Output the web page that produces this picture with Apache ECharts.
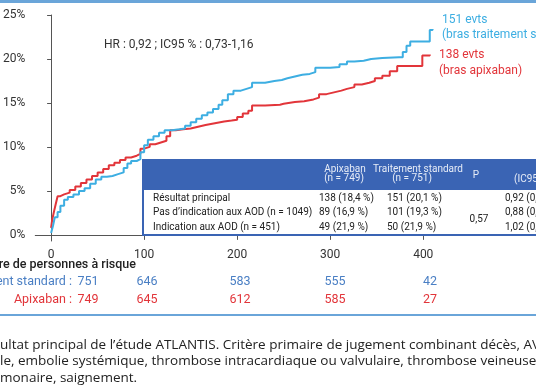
<!DOCTYPE html>
<html>
<head>
<meta charset="utf-8">
<script src="https://cdn.jsdelivr.net/npm/echarts@6/dist/echarts.min.js"></script>
<style>
html,body{margin:0;padding:0;background:#fff;}
#c{width:536px;height:386px;}
</style>
</head>
<body>
<div id="c"></div>
<script>
// ---- Data ----
const stdT = [0,2,4,7,10,14,18,24,30,36,42,48,54,60,66,72,78,82,86,92,96,100,104,110,116,122,130,138,144,150,156,162,168,174,180,184,190,196,204,210,216,222,230,240,248,254,262,270,278,284,292,300,310,318,326,336,344,356,374,378,382,386,404,407,410];
const stdP = [0.2,1.0,2.0,2.6,3.3,4.0,4.3,4.6,5.0,5.3,5.8,6.3,6.6,6.7,6.9,7.1,7.6,8.1,8.4,8.6,9.4,10.2,10.8,11.2,11.6,11.9,12.0,12.1,12.4,12.8,13.2,13.6,13.9,14.3,14.8,15.3,16.0,16.4,16.6,16.8,17.3,17.3,17.5,17.6,17.8,18.0,18.2,18.3,18.5,19.0,19.0,19.1,19.4,19.7,19.8,20.0,20.1,20.2,20.2,20.8,21.5,22.0,22.0,23.3,23.4];
const apixT = [0,1,3,5,7,10,14,20,26,32,38,44,50,56,62,68,74,80,86,92,96,100,106,112,118,124,128,134,142,150,158,166,176,186,194,200,206,212,216,230,246,250,262,272,282,288,296,304,312,318,326,334,342,348,356,364,372,396,399,407];
const apixP = [0.8,1.6,2.6,3.5,4.4,4.6,4.8,5.1,5.5,5.9,6.3,6.7,7.1,7.5,7.9,8.2,8.5,8.8,9.0,9.2,9.8,10.0,10.3,10.5,10.7,11.2,11.9,12.0,12.1,12.3,12.5,12.7,12.9,13.0,13.1,13.4,13.8,14.1,14.7,14.8,14.9,15.1,15.2,15.4,15.6,16.0,16.2,16.4,16.6,16.8,17.1,17.3,17.5,17.8,18.1,18.6,19.2,19.2,20.4,20.5];

const yTicks = [0,5,10,15,20,25];
const xTicks = [0,100,200,300,400];

const riskStd = [751,646,583,555,42];
const riskApix = [749,645,612,585,27];

const tableRows = ['Résultat principal','Pas d’indication aux AOD (n = 1049)','Indication aux AOD (n = 451)'];
const apixCol = ['138 (18,4 %)','89 (16,9 %)','49 (21,9 %)'];
const stdCol = ['151 (20,1 %)','101 (19,3 %)','50 (21,9 %)'];
const hrCol = ['0,92 (0,73-1,16)','0,88 (0,','1,02 (0,'];
const pValue = '0,57';

const captionLines = [
  'ultat principal de l’étude ATLANTIS. Critère primaire de jugement combinant décès, AVC,',
  'le, embolie systémique, thrombose intracardiaque ou valvulaire, thrombose veineuse',
  'monaire, saignement.'
];

// ---- Styles / layout ----
const FONT = 'Roboto, "Noto Sans", sans-serif';
const CAP_FONT = '"Open Sans", Roboto, sans-serif';
const BLUE = '#3daee2';
const RED = '#e2353a';
const RISK_BLUE = '#4a7fc4';
const TABLE_BLUE = '#3a64b4';
const riskX = [88,147,240,335,430];
const rowY = [198,212,227];

const chart = echarts.init(document.getElementById('c'), null, {renderer:'canvas'});

function pairs(t,p){ return t.map((v,i)=>[v,p[i]]); }

const g = [];
g.push({type:'rect', shape:{x:0,y:0,width:536,height:3}, style:{fill:'#6aa5d9'}, z:10});
g.push({type:'rect', shape:{x:0,y:314,width:536,height:2}, style:{fill:'#6aa5d9'}, z:10});

function txt(text,x,y,opt){
  opt = opt||{};
  return {type:'text', x:x, y:y, z:opt.z||20, style:{
    text:text, fill:opt.fill||'#2b2b2b', font:(opt.weight||'normal')+' '+(opt.size||12)+'px '+(opt.family||FONT),
    align:opt.align||'left', verticalAlign:'middle'}};
}

g.push(txt('HR : 0,92 ; IC95 % : 0,73-1,16',104,45,{size:12,fill:'#333'}));
g.push(txt('151 evts',442,20,{fill:BLUE}));
g.push(txt('(bras traitement standard)',442,35,{fill:BLUE}));
g.push(txt('138 evts',439,55,{fill:RED}));
g.push(txt('(bras apixaban)',439,71,{fill:RED}));

// table
g.push({type:'rect', z:15, shape:{x:143,y:160,width:420,height:75}, style:{fill:'#fff', stroke:TABLE_BLUE, lineWidth:2}});
g.push({type:'rect', z:16, shape:{x:143,y:160,width:420,height:30}, style:{fill:TABLE_BLUE}});
const HDR = '#e6ecf7';
g.push(txt('Apixaban',345,169,{size:10,fill:HDR,align:'center'}));
g.push(txt('(n = 749)',344,178,{size:10,fill:HDR,align:'center'}));
g.push(txt('Traitement standard',418,169,{size:10,fill:HDR,align:'center'}));
g.push(txt('(n = 751)',412,178,{size:10,fill:HDR,align:'center'}));
g.push(txt('P',476,175,{size:10,fill:HDR,align:'center'}));
g.push(txt('(IC95 %)',514,179,{size:10,fill:HDR}));
tableRows.forEach((r,i)=>{
  g.push(txt(r,153,rowY[i],{size:10,fill:'#222'}));
  g.push(txt(apixCol[i],319,rowY[i],{size:10,fill:'#222'}));
  g.push(txt(stdCol[i],387,rowY[i],{size:10,fill:'#222'}));
  g.push(txt(hrCol[i],505,rowY[i],{size:10,fill:'#222'}));
});
g.push(txt(pValue,479,219,{size:10,fill:'#222',align:'center'}));

// risk table
g.push(txt('Nombre de personnes à risque',136,265,{size:12.5,weight:'500',fill:'#222',align:'right'}));
g.push(txt('Traitement standard :',72,282,{size:12.5,fill:RISK_BLUE,align:'right'}));
g.push(txt('Apixaban :',72,300,{size:12.5,fill:RED,align:'right'}));
riskStd.forEach((v,i)=>g.push(txt(String(v),riskX[i],282,{size:12.5,fill:RISK_BLUE,align:'center'})));
riskApix.forEach((v,i)=>g.push(txt(String(v),riskX[i],300,{size:12.5,fill:RED,align:'center'})));

// caption
captionLines.forEach((l,i)=>g.push(txt(l,0,345+i*16.5,{size:13.5,fill:'#222',family:CAP_FONT})));

chart.setOption({
  animation:false,
  backgroundColor:'#fff',
  grid:{left:34,right:96,top:15,bottom:145},
  xAxis:{type:'value',min:-17,max:418,
    axisLine:{show:true,lineStyle:{color:'#555',width:1}},
    axisTick:{show:true,length:5,customValues:xTicks,lineStyle:{color:'#555'}},
    axisLabel:{customValues:xTicks,margin:8,color:'#333',fontSize:12,fontFamily:FONT},
    splitLine:{show:false}},
  yAxis:{type:'value',min:-0.7,max:25,
    axisLine:{show:true,lineStyle:{color:'#555',width:1}},
    axisTick:{show:true,length:4,customValues:yTicks,lineStyle:{color:'#555'}},
    axisLabel:{customValues:yTicks,margin:10,color:'#333',fontSize:12,fontFamily:FONT,formatter:'{value}%'},
    splitLine:{show:false}},
  series:[
    {type:'line',name:'Apixaban',step:'end',symbol:'none',data:pairs(apixT,apixP),lineStyle:{color:RED,width:2},z:3},
    {type:'line',name:'Traitement standard',step:'end',symbol:'none',data:pairs(stdT,stdP),lineStyle:{color:BLUE,width:2},z:4}
  ],
  graphic:g
});
</script>
</body>
</html>
